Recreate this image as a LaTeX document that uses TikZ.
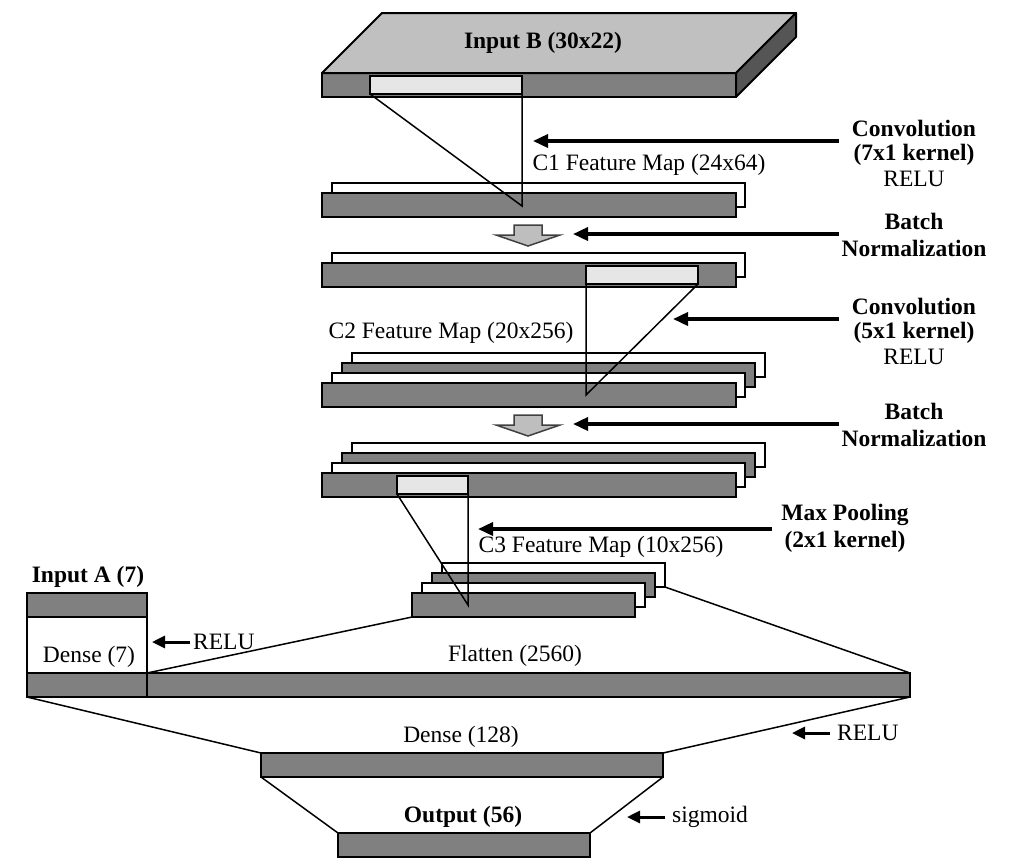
\documentclass[tikz,border=0pt]{standalone}
\usepackage{fontspec}
\setmainfont{Liberation Serif}
\usetikzlibrary{arrows.meta}
\definecolor{bargray}{HTML}{808080}
\definecolor{kerngray}{HTML}{E6E6E6}
\definecolor{topgray}{HTML}{C0C0C0}
\definecolor{sidegray}{HTML}{555555}
\definecolor{blkgray}{HTML}{BEBEBE}
\begin{document}
\begin{tikzpicture}[x=1pt,y=-1pt,
  bar/.style={draw=black, line width=2pt, fill=bargray, inner sep=0pt, outer sep=0pt, anchor=north west, minimum height=24pt},
  wbar/.style={bar, fill=white},
  kern/.style={draw=black, line width=1.6pt, fill=kerngray, inner sep=0pt, outer sep=0pt, anchor=north west, minimum height=18pt},
  face/.style={draw=black, line width=2pt, line join=round},
  tri/.style={line width=1.5pt},
  lab/.style={font=\fontsize{23.5}{27}\selectfont, inner sep=0pt},
  blab/.style={font=\fontsize{23.5}{27}\selectfont\bfseries, inner sep=0pt},
  opar/.style={-{Triangle[length=15pt,width=13pt]}, line width=3.5pt},
  sar/.style={-{Triangle[length=13pt,width=12pt]}, line width=3pt},
  blk/.style={draw=black!75, line width=1.5pt, fill=blkgray, line join=miter}
]
\useasboundingbox (0,0) rectangle (1017,863);

% ---------- Input B (3D slab) ----------
\node[bar, minimum width=414pt] (inB) at (322,73) {};
\draw[face, fill=topgray] (inB.north west) -- ++(60,-60) -- ++(414,0) -- (inB.north east) -- cycle;
\draw[face, fill=sidegray] (inB.north east) -- ++(60,-60) -- ++(0,24) -- (inB.south east) -- cycle;
\node[blab] (inBlab) at (543,43) {Input B (30x22)};
\node[kern, minimum width=152pt] (kB) at (370,76) {};

% ---------- C1 ----------
\node[wbar, minimum width=413pt] (c1b) at (332,183) {};
\node[bar, minimum width=414pt] (c1) at (322,193) {};
\coordinate (a1) at (522,206);
\draw[tri] (kB.south west) -- (a1) -- (kB.south east);
\node[lab] (c1lab) at (649,165) {C1 Feature Map (24x64)};

\coordinate (cv1s) at (839,141);
\coordinate (cv1e) at (533,141);
\draw[opar] (cv1s) -- (cv1e);
\node[blab] (cv1a) at (914,128) {Convolution};
\node[blab] (cv1b) at (914,155) {(7x1 kernel)};
\node[lab] (cv1c) at (914,179) {RELU};

% ---------- BN 1 ----------
\draw[blk] (514,225) -- (542,225) -- (542,235) -- (560,235) -- (528,246) -- (496,235) -- (514,235) -- cycle;
\coordinate (bn1s) at (839,234);
\coordinate (bn1e) at (573,234);
\draw[opar] (bn1s) -- (bn1e);
\node[blab] (bn1a) at (914,221) {Batch};
\node[blab] (bn1b) at (914,248) {Normalization};

% ---------- layer after BN1 ----------
\node[wbar, minimum width=413pt] (l2b) at (332,253) {};
\node[bar, minimum width=414pt] (l2) at (322,263) {};
\node[kern, minimum width=112pt] (k2) at (586,266) {};

% ---------- C2 ----------
\node[wbar, minimum width=413pt] (c2d) at (352,353) {};
\node[bar, minimum width=413pt] (c2c) at (342,363) {};
\node[wbar, minimum width=413pt] (c2b) at (332,373) {};
\node[bar, minimum width=414pt] (c2) at (322,383) {};
\coordinate (a2) at (586,395);
\draw[tri] (k2.south west) -- (a2) -- (k2.south east);
\node[lab] (c2lab) at (451,333) {C2 Feature Map (20x256)};

\coordinate (cv2s) at (839,319);
\coordinate (cv2e) at (673,319);
\draw[opar] (cv2s) -- (cv2e);
\node[blab] (cv2a) at (914,306) {Convolution};
\node[blab] (cv2b) at (914,333) {(5x1 kernel)};
\node[lab] (cv2c) at (914,357) {RELU};

% ---------- BN 2 ----------
\draw[blk] (514,415) -- (542,415) -- (542,425) -- (560,425) -- (528,436) -- (496,425) -- (514,425) -- cycle;
\coordinate (bn2s) at (839,424);
\coordinate (bn2e) at (573,424);
\draw[opar] (bn2s) -- (bn2e);
\node[blab] (bn2a) at (914,411) {Batch};
\node[blab] (bn2b) at (914,438) {Normalization};

% ---------- layer after BN2 ----------
\node[wbar, minimum width=413pt] (l3d) at (352,443) {};
\node[bar, minimum width=413pt] (l3c) at (342,453) {};
\node[wbar, minimum width=413pt] (l3b) at (332,463) {};
\node[bar, minimum width=414pt] (l3) at (322,473) {};
\node[kern, minimum width=71pt] (k3) at (397,476) {};

% ---------- C3 ----------
\node[wbar, minimum width=223pt] (c3d) at (442,563) {};
\node[bar, minimum width=223pt] (c3c) at (432,573) {};
\node[wbar, minimum width=223pt] (c3b) at (422,583) {};
\node[bar, minimum width=223pt] (c3) at (412,593) {};
\coordinate (a3) at (468,605);
\draw[tri] (k3.south west) -- (a3) -- (k3.south east);
\node[lab] (c3lab) at (601,547) {C3 Feature Map (10x256)};

\coordinate (mps) at (772,529);
\coordinate (mpe) at (478,529);
\draw[opar] (mps) -- (mpe);
\node[blab] (mpa) at (845,515) {Max Pooling};
\node[blab] (mpb) at (845,542) {(2x1 kernel)};

% ---------- Input A and Flatten ----------
\node[bar, minimum width=120pt] (inA) at (27,593) {};
\node[wbar, minimum width=120pt, minimum height=56pt] (dA) at (27,617) {};
\node[bar, minimum width=120pt] (fA) at (27,673) {};
\node[bar, minimum width=763pt] (fl) at (147,673) {};
\node[blab] (inAlab) at (88,577) {Input A (7)};
\node[lab] (dAlab) at (89,657) {Dense (7)};
\coordinate (r1s) at (190,642);
\coordinate (r1e) at (152,642);
\draw[sar] (r1s) -- (r1e);
\node[lab, anchor=west] (r1lab) at (193,642) {RELU};
\node[lab] (fllab) at (515,656) {Flatten (2560)};
\draw[tri] (c3.south west) -- (fl.north west);
\draw[tri] (c3d.south east) -- (fl.north east);

% ---------- Dense 128 and output ----------
\node[bar, minimum width=402pt] (d128) at (261,753) {};
\node[bar, minimum width=252pt] (out) at (338,833) {};
\draw[tri] (fA.south west) -- (d128.north west);
\draw[tri] (fl.south east) -- (d128.north east);
\draw[tri] (d128.south west) -- (out.north west);
\draw[tri] (d128.south east) -- (out.north east);
\node[lab] (d128lab) at (461,737) {Dense (128)};
\node[blab] (outlab) at (463,817) {Output (56)};

\coordinate (r2s) at (830,733);
\coordinate (r2e) at (792,733);
\draw[sar] (r2s) -- (r2e);
\node[lab, anchor=west] (r2lab) at (837,733) {RELU};
\coordinate (sgs) at (665,817);
\coordinate (sge) at (627,817);
\draw[sar] (sgs) -- (sge);
\node[lab, anchor=west] (sglab) at (672,817) {sigmoid};
\end{tikzpicture}
\end{document}
